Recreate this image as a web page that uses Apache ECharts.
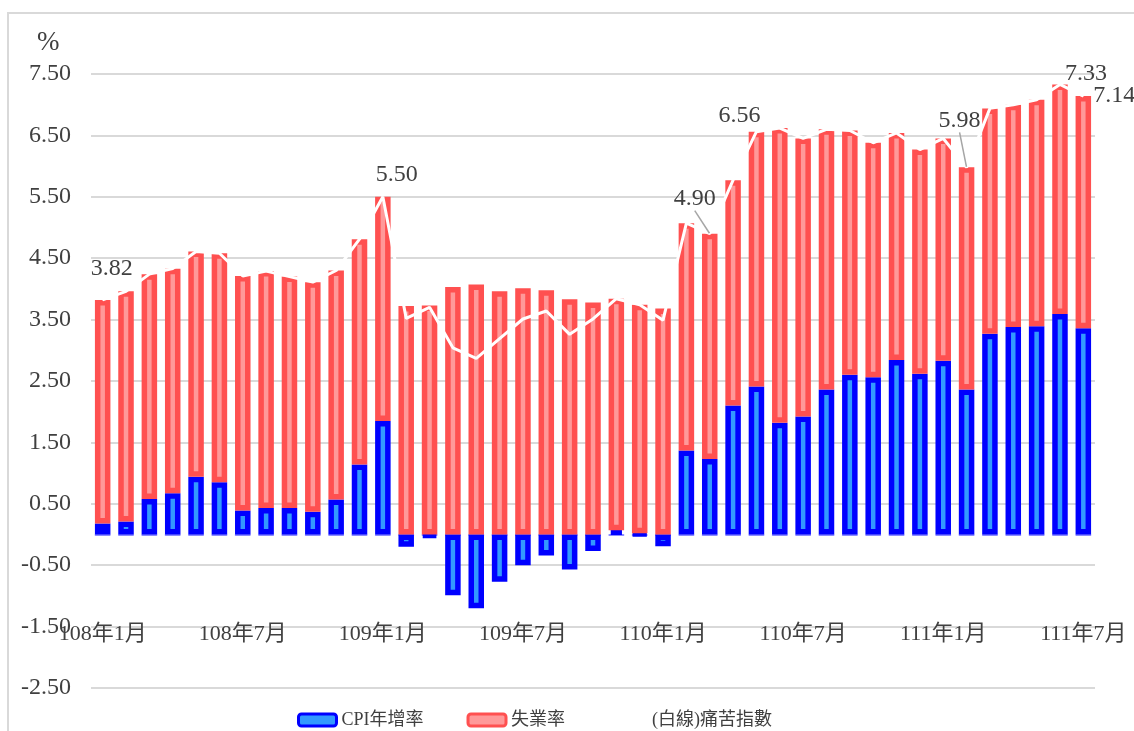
<!DOCTYPE html>
<html lang="zh-Hant">
<head>
    <meta charset="UTF-8">
    <title>痛苦指數</title>
    <script src="https://cdn.jsdelivr.net/npm/echarts/dist/echarts.min.js"></script>
    <style>
        html, body { margin: 0; padding: 0; background: #fff; }
    </style>
</head>
<body>
<div id="main" style="width: 1134px;height:731px;"></div>
<script type="text/javascript">
    // 月份 (108年1月 ~ 111年7月)
    var months = [
        '108年1月', '108年2月', '108年3月', '108年4月', '108年5月', '108年6月',
        '108年7月', '108年8月', '108年9月', '108年10月', '108年11月', '108年12月',
        '109年1月', '109年2月', '109年3月', '109年4月', '109年5月', '109年6月',
        '109年7月', '109年8月', '109年9月', '109年10月', '109年11月', '109年12月',
        '110年1月', '110年2月', '110年3月', '110年4月', '110年5月', '110年6月',
        '110年7月', '110年8月', '110年9月', '110年10月', '110年11月', '110年12月',
        '111年1月', '111年2月', '111年3月', '111年4月', '111年5月', '111年6月',
        '111年7月'
    ];
    // CPI年增率 (%)
    var cpi = [
        0.18, 0.21, 0.58, 0.67, 0.94, 0.85, 0.39, 0.43, 0.43, 0.37, 0.57, 1.14,
        1.85, -0.20, -0.03, -0.99, -1.20, -0.77, -0.50, -0.34, -0.57, -0.27, 0.07, 0.02,
        -0.19, 1.37, 1.23, 2.10, 2.41, 1.82, 1.92, 2.36, 2.60, 2.56, 2.84, 2.62,
        2.83, 2.36, 3.27, 3.38, 3.39, 3.59, 3.36
    ];
    // 失業率 (%)
    var unemp = [
        3.64, 3.75, 3.66, 3.66, 3.67, 3.73, 3.82, 3.86, 3.77, 3.74, 3.73, 3.67,
        3.65, 3.72, 3.73, 4.03, 4.07, 3.96, 4.01, 3.98, 3.83, 3.78, 3.77, 3.72,
        3.68, 3.70, 3.67, 3.67, 4.15, 4.80, 4.53, 4.24, 3.98, 3.82, 3.70, 3.65,
        3.62, 3.62, 3.67, 3.62, 3.69, 3.74, 3.78
    ];
    // 痛苦指數 (白線)
    var misery = [
        3.82, 3.96, 4.24, 4.33, 4.61, 4.58, 4.21, 4.29, 4.20, 4.11, 4.30, 4.81,
        5.50, 3.52, 3.70, 3.04, 2.87, 3.19, 3.51, 3.64, 3.26, 3.51, 3.84, 3.74,
        3.49, 5.07, 4.90, 5.77, 6.56, 6.62, 6.45, 6.60, 6.58, 6.38, 6.54, 6.27,
        6.45, 5.98, 6.94, 7.00, 7.08, 7.33, 7.14
    ];
    // 有標數值的點
    var labeled = [0, 12, 26, 28, 37, 41, 42];
    var withGuide = [26, 37];

    var txtFont = "'Liberation Serif', 'Noto Sans CJK TC', serif";

    var myChart = echarts.init(document.getElementById('main'));

    var miseryData = misery.map(function (v, i) {
        var item = {value: v};
        if (labeled.indexOf(i) >= 0) {
            item.label = {show: true};
            if (withGuide.indexOf(i) >= 0) {
                item.labelLine = {show: true};
            }
        }
        return item;
    });

    // 標籤位移 (相對預設位置)
    var labelShift = {
        0: [9, -13.5], 12: [14, -4.5], 26: [-15, -17.5], 28: [-17, 1.5],
        37: [-7, -29.5], 41: [26, 6.5], 42: [31, 17.5]
    };

    myChart.setOption({
        animation: false,
        title: {
            text: '%',
            left: 32,
            top: 24,
            textStyle: {fontFamily: txtFont, fontSize: 27, fontWeight: 'normal', color: '#404040'}
        },
        graphic: [{
            type: 'rect',
            shape: {x: 8, y: 13, width: 1300, height: 900},
            style: {fill: 'none', stroke: '#d9d9d9', lineWidth: 2},
            silent: true
        }],
        legend: {
            left: 292,
            top: 706,
            itemWidth: 38,
            itemHeight: 12,
            itemGap: 43,
            textStyle: {fontFamily: txtFont, fontSize: 18, color: '#404040'},
            data: [
                {name: 'CPI年增率', itemStyle: {borderWidth: 3}},
                {name: '失業率', itemStyle: {borderWidth: 3}},
                {name: '(白線)痛苦指數'}
            ]
        },
        grid: {
            left: 91,
            right: 39,
            top: 74,
            bottom: 43,
            containLabel: false,
            outerBoundsMode: 'none'
        },
        xAxis: {
            type: 'category',
            data: months,
            axisTick: {show: false},
            axisLine: {
                onZero: true,
                lineStyle: {color: '#8c8cff', width: 2, type: [14, 9.35], dashOffset: 18.7}
            },
            axisLabel: {
                interval: 5,
                margin: -65,
                fontFamily: txtFont,
                fontSize: 22,
                color: '#404040'
            }
        },
        yAxis: {
            type: 'value',
            min: -2.5,
            max: 7.5,
            interval: 1,
            axisLine: {show: false},
            axisTick: {show: false},
            axisLabel: {
                margin: 20,
                fontFamily: txtFont,
                fontSize: 24,
                color: '#404040',
                formatter: function (v) { return v.toFixed(2); }
            },
            splitLine: {lineStyle: {color: '#d9d9d9', width: 2}}
        },
        series: [{
            name: 'CPI年增率',
            type: 'bar',
            stack: 'misery',
            barWidth: 15.5,
            data: cpi,
            itemStyle: {color: '#3399ff', borderColor: '#0000ff', borderWidth: 5.5}
        }, {
            name: '失業率',
            type: 'bar',
            stack: 'misery',
            barWidth: 15.5,
            data: unemp,
            itemStyle: {color: '#ff9999', borderColor: '#ff5050', borderWidth: 5.5}
        }, {
            name: '(白線)痛苦指數',
            type: 'line',
            data: miseryData,
            z: 5,
            symbol: 'circle',
            symbolSize: 1,
            showAllSymbol: true,
            color: '#ffffff',
            itemStyle: {color: '#ffffff'},
            lineStyle: {color: '#ffffff', width: 3},
            label: {
                show: false,
                position: 'top',
                fontFamily: txtFont,
                fontSize: 24,
                color: '#404040',
                formatter: function (p) { return p.value.toFixed(2); }
            },
            labelLine: {show: false, lineStyle: {color: '#a6a6a6', width: 1.5}},
            labelLayout: function (params) {
                var s = labelShift[params.dataIndex];
                if (!s) return {};
                return {dx: s[0], dy: s[1]};
            }
        }]
    });
</script>
</body>
</html>
